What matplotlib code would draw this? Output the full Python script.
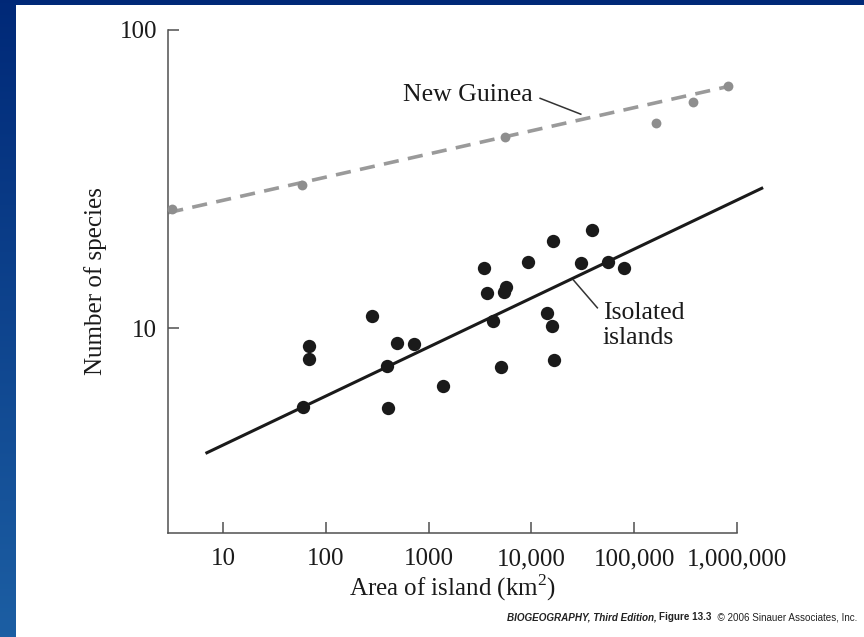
import matplotlib
matplotlib.use("Agg")
import matplotlib.pyplot as plt
import numpy as np
from matplotlib.patches import Rectangle
from matplotlib.ticker import FixedLocator, NullLocator

# isolated islands (black dots): area in km2, number of species
iso_area = [60, 68, 68, 280, 390, 404, 487, 724, 1390,
            3450, 3670, 4260, 5060, 5410, 5660, 9200,
            14100, 15800, 16300, 16600, 30200, 38900, 55700, 79800]
iso_species = [5.45, 8.7, 7.85, 11.0, 7.45, 5.4, 8.9, 8.85, 6.4,
               15.9, 13.1, 10.6, 7.4, 13.2, 13.7, 16.7,
               11.25, 10.2, 19.6, 7.8, 16.6, 21.3, 16.7, 15.9]
iso_fit_area = [6.7, 1.8e6]
iso_fit_species = [3.8, 29.6]

# New Guinea (grey dots)
ng_area = [3.15, 58, 5530, 163000, 377000, 826000]
ng_species = [25.0, 30.3, 43.6, 48.6, 57.2, 65.0]
ng_fit_area = [2.91, 8.3e5]
ng_fit_species = [24.4, 64.7]

xticks = [10, 100, 1000, 1e4, 1e5, 1e6]
xtick_labels = ["10", "100", "1000", "10,000", "100,000", "1,000,000"]
yticks = [10, 100]
ytick_labels = ["10", "100"]

W, H = 864, 637
serif = "Liberation Serif"
txt = "#1a1a1a"
plt.rcParams["mathtext.fontset"] = "custom"
plt.rcParams["mathtext.rm"] = serif

fig = plt.figure(figsize=(W / 100, H / 100), dpi=100)

# blue slide background with white panel
bg = fig.add_axes([0, 0, 1, 1], zorder=-10)
grad = np.linspace(0, 1, 256)[:, None]
top_c = np.array([0.0, 0.16, 0.47])
bot_c = np.array([0.11, 0.37, 0.64])
img = top_c[None, None, :] * (1 - grad[:, :, None]) + bot_c[None, None, :] * grad[:, :, None]
bg.imshow(img, aspect="auto", extent=[0, 1, 0, 1], origin="upper")
bg.add_patch(Rectangle((16 / W, 0), 1 - 16 / W, 1 - 5 / H, color="white", lw=0))
bg.set_xlim(0, 1)
bg.set_ylim(0, 1)
bg.axis("off")

ax = fig.add_axes([168.3 / W, 104.3 / H, 568.6 / W, 502.7 / H])
ax.set_xscale("log")
ax.set_yscale("log")
ax.set_xlim(2.91, 1e6)
ax.set_ylim(2.06, 100)

ax.plot(ng_fit_area, ng_fit_species, color="#9a9a9a", lw=2.6,
        dashes=(4.2, 2.6), zorder=2, clip_on=False)
ax.scatter(ng_area, ng_species, s=50, color="#8e8e8e", lw=0, zorder=3, clip_on=False)

ax.plot(iso_fit_area, iso_fit_species, color="#1a1a1a", lw=2.2, zorder=2,
        clip_on=False, solid_capstyle="butt")
ax.scatter(iso_area, iso_species, s=92, color="#1a1a1a", lw=0, zorder=3, clip_on=False)

# labels with leader lines
ax.text(10360, 60.5, "New Guinea", ha="right", va="center",
        fontsize=18.5, family=serif, color=txt)
ax.plot([12130, 30200], [59.0, 52.2], color="#333333", lw=1.1, zorder=4)
ax.text(49400, 10.2, "Isolated\nislands", ha="left", va="center",
        fontsize=18.5, family=serif, color=txt, linespacing=1.15)
ax.plot([25600, 43800], [14.5, 11.7], color="#333333", lw=1.1, zorder=4)

for s in ["top", "right"]:
    ax.spines[s].set_visible(False)
for s in ["left", "bottom"]:
    ax.spines[s].set_color("#505050")
    ax.spines[s].set_linewidth(1.1)

ax.xaxis.set_major_locator(FixedLocator(xticks))
ax.xaxis.set_minor_locator(NullLocator())
ax.yaxis.set_major_locator(FixedLocator(yticks))
ax.yaxis.set_minor_locator(NullLocator())
ax.set_xticklabels(xtick_labels, fontsize=18, family=serif, color=txt)
ax.set_yticklabels(ytick_labels, fontsize=18, family=serif, color=txt)
ax.tick_params(axis="both", direction="in", length=8, width=1.1, color="#505050")
ax.tick_params(axis="x", pad=11)
ax.tick_params(axis="y", pad=8)

ax.set_xlabel("Area of island (km$^{\\mathregular{2}}$)", fontsize=18, family=serif,
              color=txt, labelpad=2)
ax.set_ylabel("Number of species", fontsize=18, family=serif, color=txt, labelpad=9)

# credit line, three styles on one baseline
fs = 7.1
base_y = 1 - 620 / H
c3 = fig.text(857 / W, base_y, "  \u00a9 2006 Sinauer Associates, Inc.",
              ha="right", va="baseline", fontsize=fs, family="Liberation Sans", color="#222222")
c2 = fig.text(0, base_y, "Figure 13.3", ha="right", va="baseline", fontsize=fs,
              family="Liberation Sans", weight="bold", color="#222222")
c1 = fig.text(0, base_y, "BIOGEOGRAPHY, Third Edition, ", ha="right", va="baseline", fontsize=fs,
              family="Liberation Sans", weight="bold", style="italic", color="#222222")
fig.canvas.draw()
r = fig.canvas.get_renderer()
c2.set_x(c3.get_window_extent(r).x0 / W)
fig.canvas.draw()
c1.set_x(c2.get_window_extent(r).x0 / W)

fig.savefig("out.png", dpi=100)
